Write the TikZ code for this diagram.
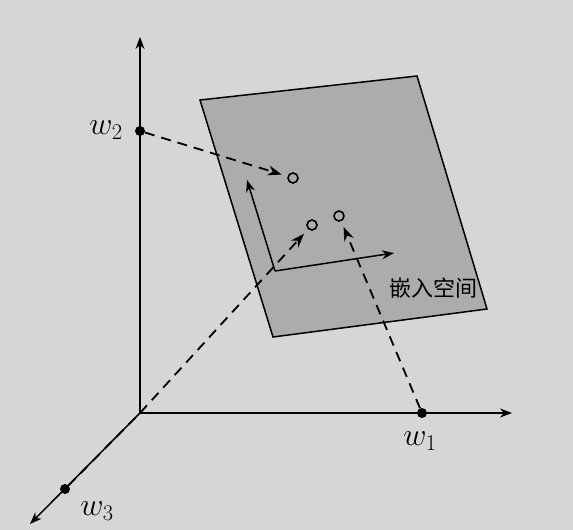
\RequirePackage{fix-cm}
\documentclass[tikz,border=0pt]{standalone}
\usepackage{fontspec}
\newfontfamily\cjk{Noto Sans CJK SC}
\usetikzlibrary{arrows.meta}
\definecolor{paper}{RGB}{214,214,215}
\definecolor{planegray}{RGB}{172,172,172}
\tikzset{
  axis/.style={line width=1.5pt,-{Stealth[length=12pt,width=9pt]}},
  dashline/.style={line width=1.8pt,dash pattern=on 10pt off 7pt,-{Stealth[length=14pt,width=10pt]},shorten >=6pt},
  dot/.style={circle,fill=black,inner sep=0pt,minimum size=10pt},
  hole/.style={circle,draw,line width=1.6pt,inner sep=0pt,minimum size=10pt},
  wlabel/.style={font=\fontsize{32}{38}\selectfont}
}
\begin{document}
\begin{tikzpicture}[x=1pt,y=-1pt]
  \fill[paper] (0,0) rectangle (573,530);
  \useasboundingbox (0,0) rectangle (573,530);

  % embedding plane
  \filldraw[fill=planegray,line width=1.5pt] (200,100) -- (417,76) -- (487,309) -- (273,337) -- cycle;
  \coordinate (P) at (275,271);
  \coordinate (Pu) at (247,180);
  \coordinate (Pr) at (394,253);
  \draw[axis] (P) -- (Pu);
  \draw[axis] (P) -- (Pr);
  \node[font=\cjk\fontsize{22}{26}\selectfont] (space) at (433,288) {嵌入空间};

  % axes
  \coordinate (O) at (140,413);
  \coordinate (Y) at (140,37);
  \coordinate (X) at (512,413);
  \coordinate (Z) at (30,524);
  \draw[axis] (O) -- (Y);
  \draw[axis] (O) -- (X);
  \draw[axis] (O) -- (Z);

  \node[dot] (w1) at (422,413) {};
  \node[dot] (w2) at (140,131) {};
  \node[dot] (w3) at (65,489) {};
  \node[wlabel] at (420,441) {$w_1$};
  \node[wlabel] at (106,130) {$w_2$};
  \node[wlabel] at (97,511) {$w_3$};

  \node[hole] (c1) at (293,178) {};
  \node[hole] (c2) at (312,225) {};
  \node[hole] (c3) at (339,216) {};

  \draw[dashline] (w2) -- (c1);
  \draw[dashline] (w3) -- (O) -- (c2);
  \draw[dashline] (w1) -- (c3);
\end{tikzpicture}
\end{document}
